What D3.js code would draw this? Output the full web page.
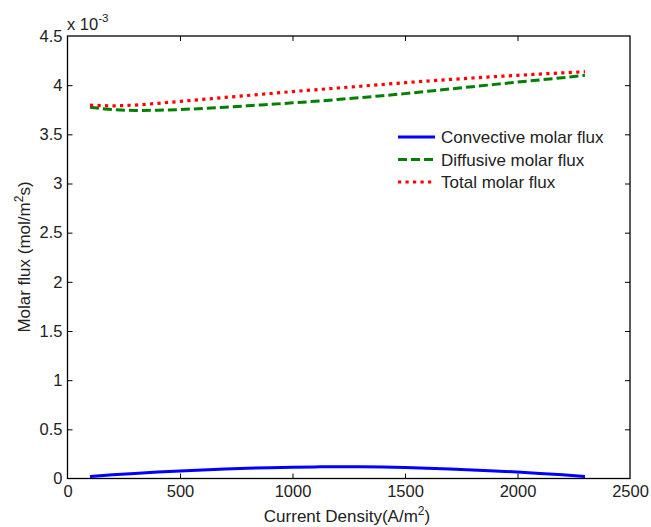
<!DOCTYPE html>
<html>
<head>
<meta charset="utf-8">
<script src="https://cdn.jsdelivr.net/npm/d3@7"></script>
<style>
  html, body { margin: 0; padding: 0; background: #fff; }
  svg { display: block; font-family: "Liberation Sans", Arial, Helvetica, sans-serif; }
</style>
</head>
<body>
<svg id="chart" width="651" height="527"></svg>
<script>
// Current density (A/m^2)
const currentDensity = [100, 200, 300, 400, 500, 600, 700, 800, 900, 1000, 1100, 1200,
                        1300, 1400, 1500, 1600, 1700, 1800, 1900, 2000, 2100, 2200, 2300];
// Molar fluxes, in units of 1e-3 mol/(m^2 s)
const convectiveFlux = [0.020, 0.037, 0.052, 0.065, 0.077, 0.087, 0.096, 0.104, 0.110, 0.115, 0.118, 0.120,
                        0.119, 0.116, 0.111, 0.104, 0.096, 0.087, 0.077, 0.065, 0.052, 0.037, 0.020];
const diffusiveFlux  = [3.775, 3.752, 3.743, 3.745, 3.752, 3.763, 3.776, 3.790, 3.805, 3.820, 3.836, 3.854,
                        3.873, 3.893, 3.914, 3.937, 3.961, 3.985, 4.008, 4.031, 4.053, 4.076, 4.100];
const totalFlux      = [3.797, 3.790, 3.798, 3.815, 3.835, 3.855, 3.875, 3.895, 3.915, 3.935, 3.953, 3.971,
                        3.989, 4.007, 4.025, 4.042, 4.058, 4.073, 4.087, 4.100, 4.113, 4.125, 4.137];
const seriesNames = ["Convective molar flux", "Diffusive molar flux", "Total molar flux"];
const xTicks = [0, 500, 1000, 1500, 2000, 2500];
const yTicks = [0, 0.5, 1, 1.5, 2, 2.5, 3, 3.5, 4, 4.5];

const svg = d3.select("#chart");
const m = { left: 67.5, right: 630, top: 36, bottom: 478.5 };

const x = d3.scaleLinear().domain([0, 2500]).range([m.left, m.right]);
const y = d3.scaleLinear().domain([0, 4.5]).range([m.bottom, m.top]);

const fmt = d => String(d);
const tickLen = 5;
const tickFont = 16.5;
const labelFont = 17;
const textColor = "#222";

// Axes with inward ticks on all four sides
const gBottom = svg.append("g").attr("transform", `translate(0,${m.bottom})`)
  .call(d3.axisBottom(x).tickValues(xTicks).tickFormat(fmt).tickSizeInner(-tickLen).tickSizeOuter(0).tickPadding(7));
const gTop = svg.append("g").attr("transform", `translate(0,${m.top})`)
  .call(d3.axisTop(x).tickValues(xTicks).tickFormat("").tickSizeInner(-tickLen).tickSizeOuter(0));
const gLeft = svg.append("g").attr("transform", `translate(${m.left},0)`)
  .call(d3.axisLeft(y).tickValues(yTicks).tickFormat(fmt).tickSizeInner(-tickLen).tickSizeOuter(0).tickPadding(5));
const gRight = svg.append("g").attr("transform", `translate(${m.right},0)`)
  .call(d3.axisRight(y).tickValues(yTicks).tickFormat("").tickSizeInner(-tickLen).tickSizeOuter(0));

[gBottom, gTop, gLeft, gRight].forEach(g => {
  g.select(".domain").remove();
  g.selectAll(".tick line").attr("stroke", "#000").attr("stroke-width", 1);
  g.selectAll(".tick text").attr("fill", textColor).attr("font-size", tickFont)
    .attr("font-family", "Liberation Sans, Arial, sans-serif");
});
gTop.selectAll(".tick").filter(d => d === 0 || d === 2500).remove();
gBottom.selectAll(".tick line").filter(d => d === 0 || d === 2500).remove();
gLeft.selectAll(".tick line").filter(d => d === 0 || d === 4.5).remove();
gRight.selectAll(".tick").filter(d => d === 0 || d === 4.5).remove();

// Box
svg.append("rect")
  .attr("x", m.left).attr("y", m.top)
  .attr("width", m.right - m.left).attr("height", m.bottom - m.top)
  .attr("fill", "none").attr("stroke", "#000").attr("stroke-width", 1.3);

// Exponent label
const expo = svg.append("text").attr("x", 67).attr("y", 30)
  .attr("font-size", tickFont).attr("fill", textColor);
expo.append("tspan").text("x 10");
expo.append("tspan").attr("dy", -8).attr("font-size", 11.5).text("-3");

// Axis titles
const xt = svg.append("text").attr("x", 347).attr("y", 522).attr("text-anchor", "middle")
  .attr("font-size", labelFont).attr("fill", textColor);
xt.append("tspan").text("Current Density(A/m");
xt.append("tspan").attr("dy", -7).attr("font-size", 12).text("2");
xt.append("tspan").attr("dy", 7).text(")");

const yt = svg.append("text").attr("transform", "translate(30,257) rotate(-90)").attr("text-anchor", "middle")
  .attr("font-size", labelFont).attr("fill", textColor);
yt.append("tspan").text("Molar flux (mol/m");
yt.append("tspan").attr("dy", -7).attr("font-size", 12).text("2");
yt.append("tspan").attr("dy", 7).text("s)");

// Series
const styles = [
  { color: "#0000ff", width: 3, dash: null },
  { color: "#008000", width: 3, dash: "9,4" },
  { color: "#ff0000", width: 3.2, dash: "3.2,4.3" }
];
const seriesValues = [convectiveFlux, diffusiveFlux, totalFlux];
const line = d3.line().x(d => x(d[0])).y(d => y(d[1])).curve(d3.curveMonotoneX);

// convective, diffusive, then total drawn on top
seriesValues.forEach((vals, i) => {
  const pts = currentDensity.map((c, k) => [c, vals[k]]);
  svg.append("path").datum(pts)
    .attr("d", line)
    .attr("fill", "none")
    .attr("stroke", styles[i].color)
    .attr("stroke-width", styles[i].width)
    .attr("stroke-dasharray", styles[i].dash);
});

// Legend
const legendBaselines = [143.3, 165.7, 188.3];
const legend = svg.append("g");
seriesNames.forEach((name, i) => {
  const yy = legendBaselines[i] - 6.3;
  legend.append("line")
    .attr("x1", 398).attr("x2", 435).attr("y1", yy).attr("y2", yy)
    .attr("stroke", styles[i].color).attr("stroke-width", styles[i].width)
    .attr("stroke-dasharray", styles[i].dash);
  legend.append("text").attr("x", 441).attr("y", legendBaselines[i])
    .attr("font-size", labelFont).attr("fill", textColor).text(name);
});
</script>
</body>
</html>
